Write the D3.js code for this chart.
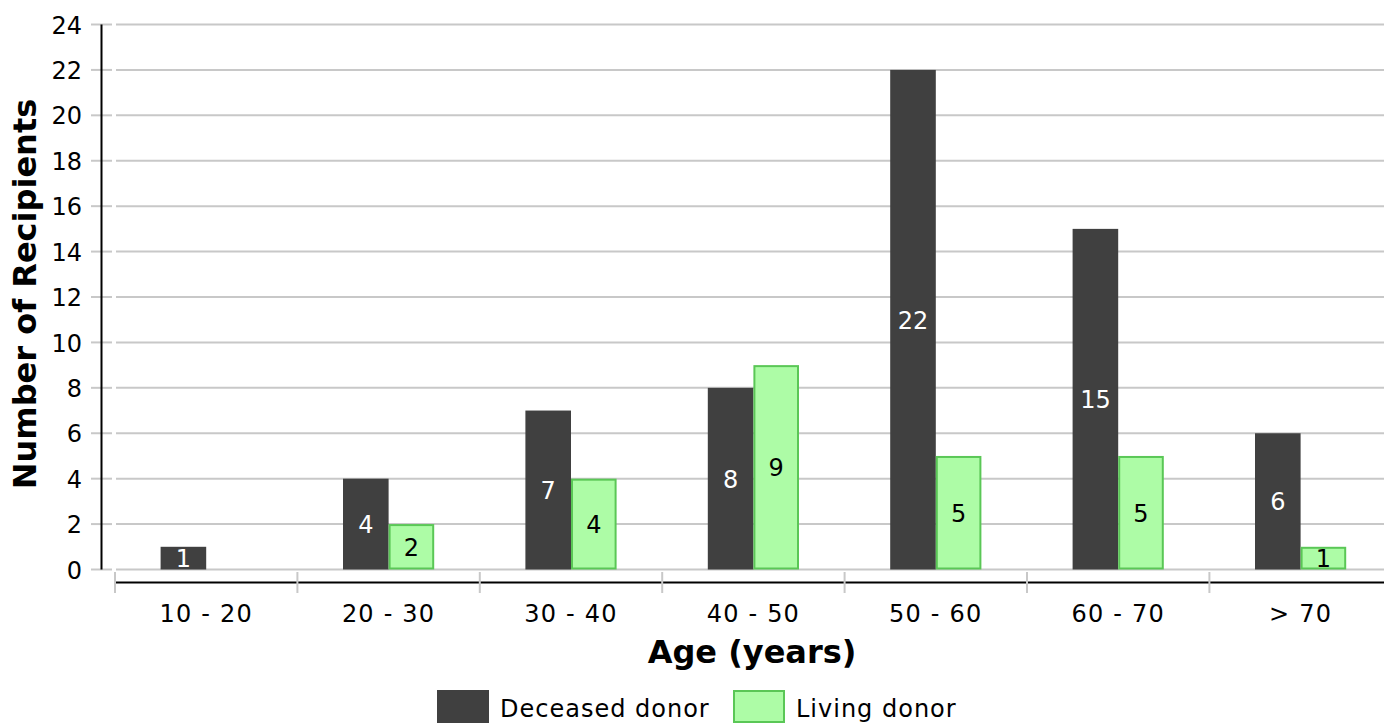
<!DOCTYPE html>
<html><head><meta charset="utf-8">
<script src="https://cdn.jsdelivr.net/npm/d3@7"></script>
<style>body{margin:0;background:#fff}svg{display:block}text{font-family:"DejaVu Sans",Verdana,sans-serif}</style>
</head><body>
<svg id="c" width="1384" height="724"></svg>
<script>
const categories = ["10 - 20","20 - 30","30 - 40","40 - 50","50 - 60","60 - 70","> 70"];
const seriesNames = ["Deceased donor","Living donor"];
const deceased = [1,4,7,8,22,15,6];
const living = [0,2,4,9,5,5,1];
const yTicks = [0,2,4,6,8,10,12,14,16,18,20,22,24];

const svg = d3.select("#c");
const fills = ["#404040","#adfca6"];
const strokes = ["#404040","#5ac756"];
const textCols = ["#ffffff","#000000"];

const y = d3.scaleLinear().domain([0,24]).range([569.5,24.5]);
const x = d3.scaleBand().domain(categories).range([115, 115+7*182.4]).padding(0);
const bw = x.bandwidth();
const x1 = d3.scaleBand().domain(seriesNames).range([bw*0.25, bw*0.75]).padding(0);

// grid lines + y ticks
const g = svg.append("g");
yTicks.forEach(t=>{
  g.append("line").attr("x1",91).attr("x2",112).attr("y1",y(t)).attr("y2",y(t)).attr("stroke","#c8c8c8").attr("stroke-width",2);
  g.append("line").attr("x1",116).attr("x2",1384).attr("y1",y(t)).attr("y2",y(t)).attr("stroke","#c8c8c8").attr("stroke-width",2);
  g.append("text").attr("x",82).attr("y",y(t)).attr("dy","0.38em").attr("text-anchor","end").attr("font-size",24).attr("fill","#000").text(t);
});
svg.append("line").attr("x1",101.5).attr("x2",101.5).attr("y1",y(24)).attr("y2",y(0)).attr("stroke","#000").attr("stroke-width",2);

// x axis
svg.append("line").attr("x1",115).attr("x2",1384).attr("y1",582.5).attr("y2",582.5).attr("stroke","#000").attr("stroke-width",2);
categories.forEach(c=>{
  svg.append("line").attr("x1",x(c)).attr("x2",x(c)).attr("y1",572).attr("y2",593).attr("stroke","#c8c8c8").attr("stroke-width",2);
  svg.append("text").attr("x",x(c)+bw/2).attr("y",622).attr("text-anchor","middle").attr("font-size",24)
    .attr("letter-spacing","1.2px").attr("fill","#000").text(c);
});

// bars
const data = [deceased, living];
data.forEach((vals,si)=>{
  vals.forEach((v,i)=>{
    if(!v) return;
    const c = categories[i];
    const bx = x(c)+x1(seriesNames[si]);
    const sw = si===1?2:0;
    svg.append("rect").attr("x",bx+sw/2).attr("y",y(v)+sw/2).attr("width",x1.bandwidth()-sw).attr("height",y(0)-y(v)-sw)
      .attr("fill",fills[si]).attr("stroke",si===1?strokes[si]:"none").attr("stroke-width",sw);
    svg.append("text").attr("x",bx+x1.bandwidth()/2).attr("y",(y(v)+y(0))/2).attr("dy","0.38em")
      .attr("text-anchor","middle").attr("font-size",24).attr("fill",textCols[si]).text(v);
  });
});

// axis titles
svg.append("text").attr("transform","translate(36,294) rotate(-90)").attr("text-anchor","middle")
  .attr("font-size",32).attr("font-weight","bold").text("Number of Recipients");
svg.append("text").attr("x",752).attr("y",663).attr("text-anchor","middle")
  .attr("font-size",32).attr("font-weight","bold").text("Age (years)");

// legend
const lg = [{x:437,tx:500},{x:733,tx:796}];
seriesNames.forEach((s,i)=>{
  const sw = i===1?2:0;
  svg.append("rect").attr("x",lg[i].x+sw/2).attr("y",690+sw/2).attr("width",52-sw).attr("height",33-sw)
    .attr("fill",fills[i]).attr("stroke",i===1?strokes[i]:"none").attr("stroke-width",sw);
  svg.append("text").attr("x",lg[i].tx).attr("y",717).attr("font-size",24).attr("letter-spacing","1px").attr("fill","#000").text(s);
});
</script>
</body></html>
